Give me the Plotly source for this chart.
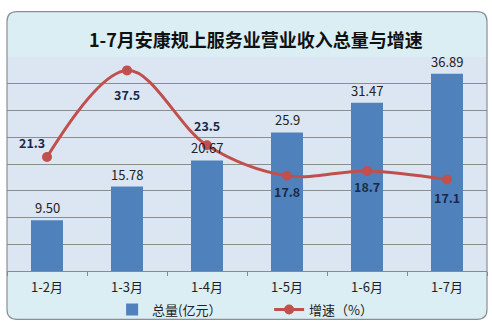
import plotly.graph_objects as go

categories = ["1-2月", "1-3月", "1-4月", "1-5月", "1-6月", "1-7月"]
total_values = [9.50, 15.78, 20.67, 25.9, 31.47, 36.89]
total_labels = ["9.50", "15.78", "20.67", "25.9", "31.47", "36.89"]
growth_values = [21.3, 37.5, 23.5, 17.8, 18.7, 17.1]
growth_labels = ["21.3", "37.5", "23.5", "17.8", "18.7", "17.1"]

# label offsets (style only, pixels)
label_dx = [-15, 0, 0, 0, 0, 0]
label_dy = [15, -24, 20, -16, -16, -18]

FONT = "Noto Sans CJK SC"
BAR_C = "#4f81bd"
LINE_C = "#c0504d"

fig = go.Figure()
fig.add_trace(go.Bar(
    x=categories, y=total_values, name="总量(亿元）",
    marker=dict(color=BAR_C, line=dict(width=0)), width=0.4,
))
fig.add_trace(go.Scatter(
    x=categories, y=growth_values, name="增速（%）", yaxis="y2",
    mode="lines+markers",
    line=dict(color=LINE_C, width=3, shape="spline", smoothing=1.0),
    marker=dict(color=LINE_C, size=10),
    cliponaxis=False,
))

annotations = []
for c, v, t in zip(categories, total_values, total_labels):
    annotations.append(dict(
        x=c, y=v, xref="x", yref="y", text=t, showarrow=False,
        yanchor="bottom", yshift=1, font=dict(size=13, color="#222222", family=FONT),
    ))
for c, v, t, dx, dy in zip(categories, growth_values, growth_labels, label_dx, label_dy):
    annotations.append(dict(
        x=c, y=v, xref="x", yref="y2", text="<b>%s</b>" % t, showarrow=False,
        xshift=dx, yshift=dy, font=dict(size=12.5, color="#1a2a48", family=FONT),
    ))

# card geometry in paper coords (plot area 480x217 px)
px_x = 1 / 480.0
px_y = 1 / 217.0
x0, x1 = 0.0, 1.0
y0, y1 = -49 * px_y, 1 + 46 * px_y
rx, ry = 10 * px_x, 10 * px_y
card = (f"M {x0+rx} {y1} L {x1-rx} {y1} Q {x1} {y1} {x1} {y1-ry} "
        f"L {x1} {y0+ry} Q {x1} {y0} {x1-rx} {y0} L {x0+rx} {y0} "
        f"Q {x0} {y0} {x0} {y0+ry} L {x0} {y1-ry} Q {x0} {y1} {x0+rx} {y1} Z")

shapes = [
    dict(type="path", path=card, xref="paper", yref="paper", layer="below",
         fillcolor="#dbeef4", line=dict(width=0)),
    dict(type="rect", x0=0, x1=1, y0=0, y1=1, xref="paper", yref="paper", layer="below",
         fillcolor="#dce6f2", line=dict(width=0)),
    dict(type="path", path=card, xref="paper", yref="paper", layer="below",
         fillcolor="rgba(0,0,0,0)", line=dict(color="#8a8f94", width=1.2)),
]

fig.update_layout(
    width=492, height=329,
    margin=dict(l=7, r=5, t=57, b=55),
    paper_bgcolor="white", plot_bgcolor="rgba(0,0,0,0)",
    font=dict(family=FONT, color="#222222"),
    title=dict(text="<b>1-7月安康规上服务业营业收入总量与增速</b>",
               x=0.52, xanchor="center", y=1 - 41 / 329, yanchor="middle",
               font=dict(size=18, color="#111111", family=FONT)),
    xaxis=dict(showgrid=False, showline=True, linecolor="#8a8a8a", linewidth=1,
               ticks="outside", tickson="boundaries", ticklen=4, tickcolor="#8a8a8a",
               tickfont=dict(size=13, color="#222222", family=FONT),
               ticklabelstandoff=4),
    yaxis=dict(range=[0, 40], dtick=5, showticklabels=False, showgrid=True,
               gridcolor="#8c8c8c", gridwidth=1, zeroline=False, showline=False),
    yaxis2=dict(range=[0, 40], overlaying="y", side="right", showticklabels=False,
                showgrid=False, zeroline=False, showline=False),
    bargap=0.6,
    showlegend=True,
    legend=dict(orientation="h", x=0.219, xanchor="left", y=-0.18, yanchor="middle",
                bgcolor="rgba(0,0,0,0)", font=dict(size=13, family=FONT, color="#222222"),
                entrywidth=112, traceorder="normal"),
    annotations=annotations,
    shapes=shapes,
)

fig.write_html("out.html")
